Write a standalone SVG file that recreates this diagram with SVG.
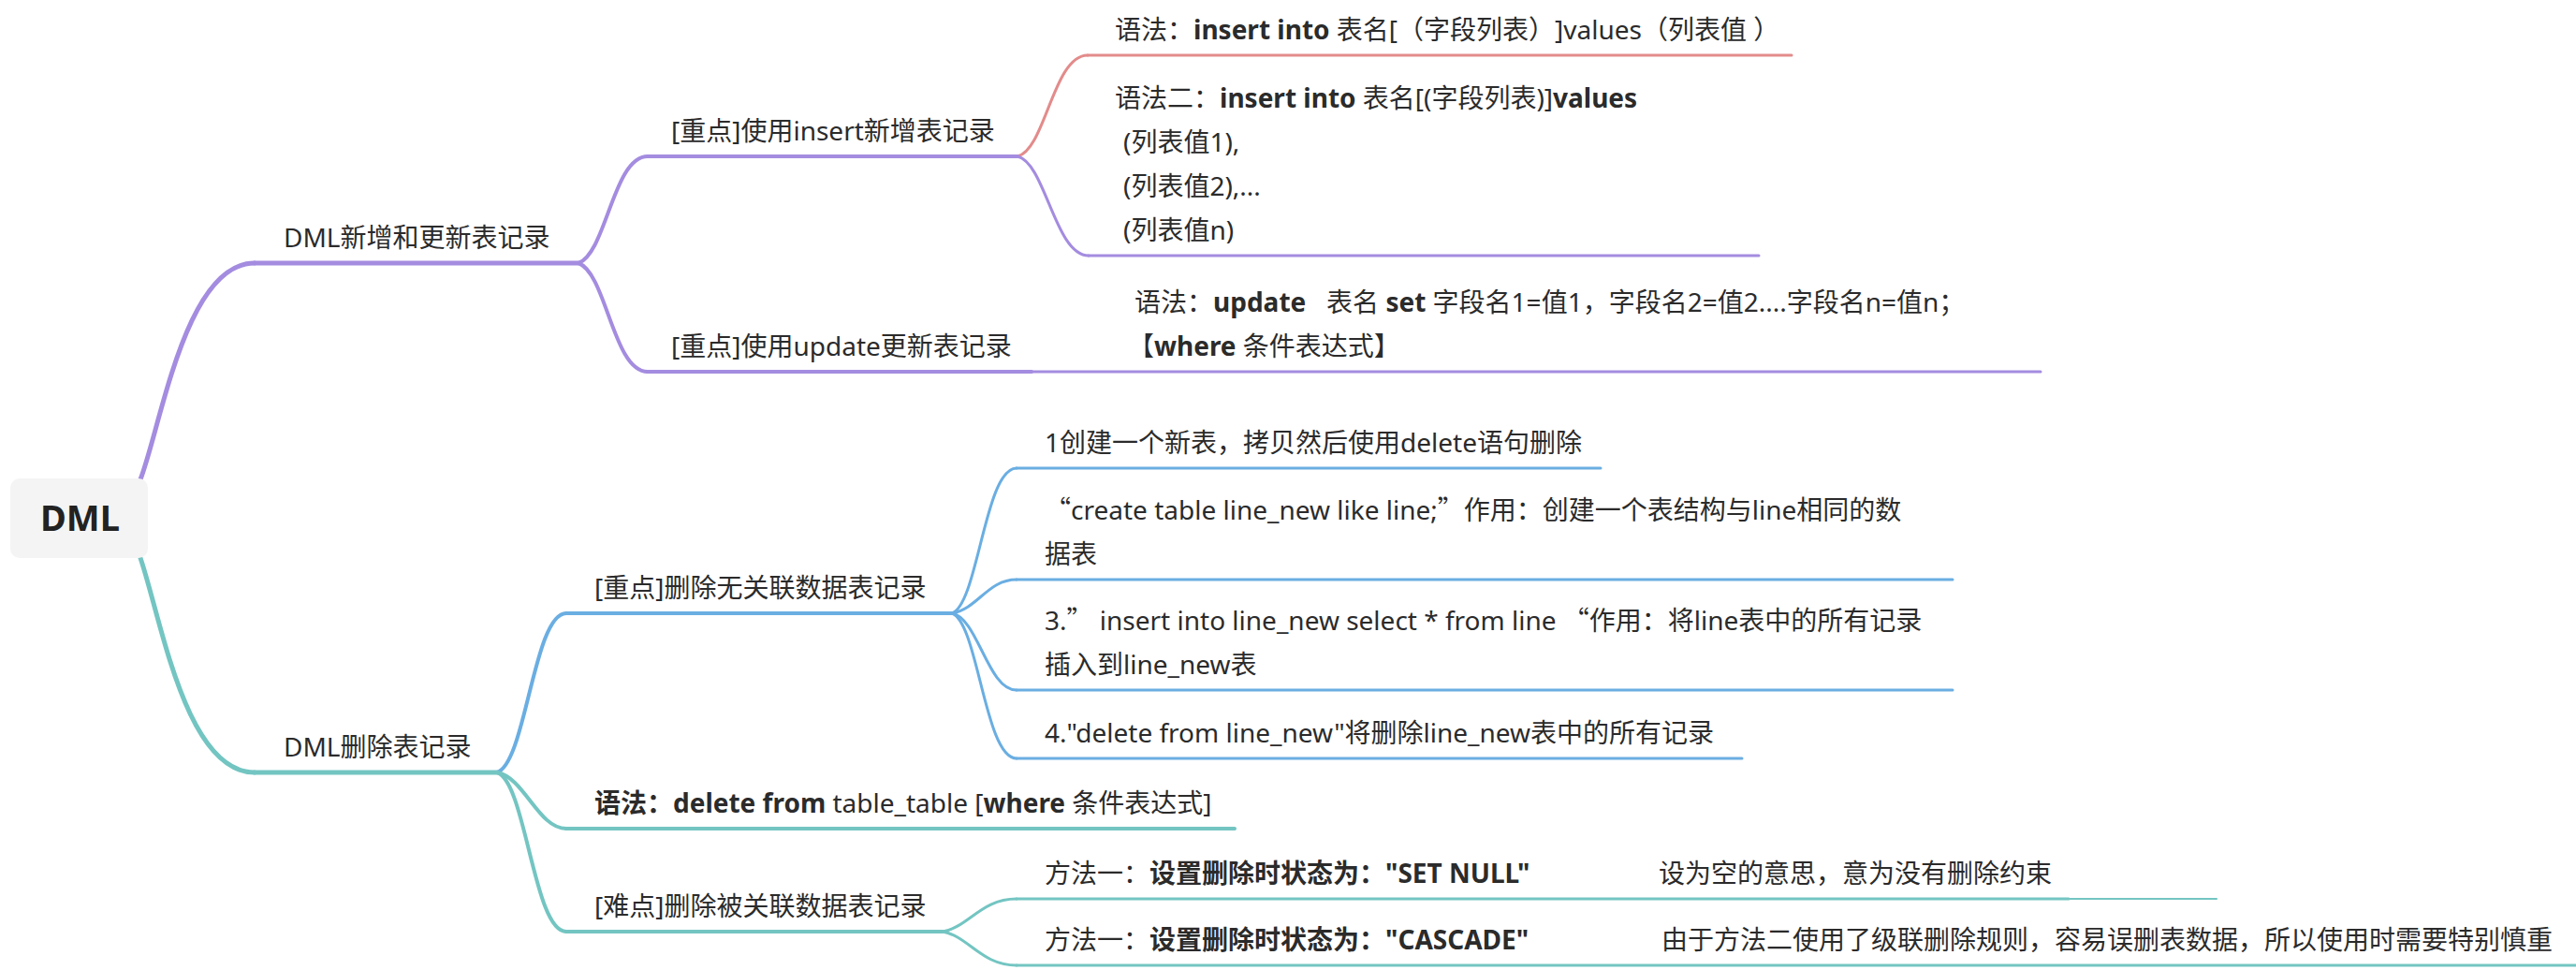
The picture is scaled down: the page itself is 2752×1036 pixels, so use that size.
<svg xmlns="http://www.w3.org/2000/svg" width="2752" height="1036" viewBox="0 0 2752 1036">
<style>
.t{font-family:"Noto Sans","Noto Sans CJK SC",sans-serif;font-size:28px;fill:#2b2b2b;text-spacing-trim:space-all}
.b{font-weight:bold}
.q{font-family:"Noto Sans CJK SC",sans-serif}
.rt{font-family:"Noto Sans","Noto Sans CJK SC",sans-serif;font-size:38px;font-weight:bold;fill:#222}
path{fill:none;stroke-linecap:round}
.pu{stroke:#a48ce0}.rd{stroke:#e38b8b}.bl{stroke:#6aaee2}.tl{stroke:#73c5c2}
.w5{stroke-width:5}.w4{stroke-width:4}.w3{stroke-width:3}.w2{stroke-width:2}
</style>
<rect width="2752" height="1036" fill="#ffffff"/>
<g id="connectors">
<path class="pu w5" d="M150 512 C 172 455, 198 281, 272 281"/>
<path class="tl w5" d="M150 596 C 172 660, 198 825, 272 825"/>
<path class="pu w4" d="M618 281 C 648 270, 655 167, 692 167"/>
<path class="pu w4" d="M618 281 C 648 292, 655 397, 692 397"/>
<path class="rd w3" d="M1087 167 C 1117 160, 1125 59, 1162 59"/>
<path class="pu w3" d="M1087 167 C 1117 174, 1127 273, 1163 273"/>
<path class="bl w4" d="M531 825 C 562 815, 570 655, 605 655"/>
<path class="tl w4" d="M531 825 C 560 830, 575 885, 605 885"/>
<path class="tl w4" d="M531 825 C 562 835, 570 995, 605 995"/>
<path class="bl w3" d="M1017 655 C 1045 645, 1052 500, 1086 500"/>
<path class="bl w3" d="M1017 655 C 1045 650, 1055 619, 1086 619"/>
<path class="bl w3" d="M1017 655 C 1045 660, 1055 737, 1086 737"/>
<path class="bl w3" d="M1017 655 C 1045 665, 1052 810, 1086 810"/>
<path class="tl w3" d="M1007 995 C 1035 990, 1048 960, 1086 960"/>
<path class="tl w3" d="M1007 995 C 1035 1000, 1048 1031, 1086 1031"/>
</g>
<g id="root">
<rect x="11" y="511" width="147" height="85" rx="10" fill="#f4f4f4"/>
<text class="rt" x="85.5" y="567" text-anchor="middle">DML</text>
</g>
<g id="n-insert-update">
<path class="pu w5" d="M272 281 H618"/>
<text class="t" x="303" y="264">DML新增和更新表记录</text>
</g>
<g id="n-delete">
<path class="tl w5" d="M272 825 H531"/>
<text class="t" x="303" y="808">DML删除表记录</text>
</g>
<g id="n-insert">
<path class="pu w4" d="M692 167 H1087"/>
<text class="t" x="717" y="150">[重点]使用insert新增表记录</text>
</g>
<g id="n-update">
<path class="pu w4" d="M692 397 H1102"/>
<text class="t" x="717" y="380">[重点]使用update更新表记录</text>
</g>
<g id="n-insert-syntax1">
<path class="rd w3" d="M1162 59 H1914"/>
<text class="t" x="1191" y="42">语法：<tspan class="b">insert into</tspan> 表名[（字段列表）]values（列表值 ）</text>
</g>
<g id="n-insert-syntax2">
<path class="pu w3" d="M1163 273 H1879"/>
<text class="t" x="1191" y="115">语法二：<tspan class="b">insert into</tspan> 表名[(字段列表)]<tspan class="b">values</tspan></text>
<text class="t" x="1200" y="162">(列表值1),</text>
<text class="t" x="1200" y="209">(列表值2),...</text>
<text class="t" x="1200" y="256">(列表值n)</text>
</g>
<g id="n-update-syntax">
<path class="pu w3" d="M1102 397 H2180"/>
<text class="t" x="1212" y="333" xml:space="preserve">语法：<tspan class="b">update</tspan>   表名 <tspan class="b">set</tspan> 字段名1=值1，字段名2=值2....字段名n=值n；</text>
<text class="t" x="1205" y="380">【<tspan class="b">where</tspan> 条件表达式】</text>
</g>
<g id="n-del-unrelated">
<path class="bl w4" d="M605 655 H1017"/>
<text class="t" x="635" y="638">[重点]删除无关联数据表记录</text>
</g>
<g id="n-del-syntax">
<path class="tl w4" d="M605 885 H1319"/>
<text class="t" x="635" y="868"><tspan class="b">语法：delete from</tspan> table_table [<tspan class="b">where</tspan> 条件表达式]</text>
</g>
<g id="n-del-related">
<path class="tl w4" d="M605 995 H1007"/>
<text class="t" x="635" y="978">[难点]删除被关联数据表记录</text>
</g>
<g id="n-step1">
<path class="bl w3" d="M1086 500 H1710"/>
<text class="t" x="1116" y="483">1创建一个新表，拷贝然后使用delete语句删除</text>
</g>
<g id="n-step2">
<path class="bl w3" d="M1086 619 H2086"/>
<text class="t" x="1116" y="555"><tspan class="q">“</tspan>create table line_new like line;<tspan class="q">”</tspan>作用：创建一个表结构与line相同的数</text>
<text class="t" x="1116" y="602">据表</text>
</g>
<g id="n-step3">
<path class="bl w3" d="M1086 737 H2086"/>
<text class="t" x="1116" y="673">3.<tspan class="q">”</tspan> insert into line_new select * from line <tspan class="q">“</tspan>作用：将line表中的所有记录</text>
<text class="t" x="1116" y="720">插入到line_new表</text>
</g>
<g id="n-step4">
<path class="bl w3" d="M1086 810 H1861"/>
<text class="t" x="1116" y="793">4."delete from line_new"将删除line_new表中的所有记录</text>
</g>
<g id="n-setnull">
<path class="tl w3" d="M1086 960 H2210"/>
<path class="tl w2" d="M2210 960 H2368"/>
<text class="t" x="1116" y="943">方法一：<tspan class="b">设置删除时状态为："SET NULL"</tspan></text>
<text class="t" x="1772" y="943">设为空的意思，意为没有删除约束</text>
</g>
<g id="n-cascade">
<path class="tl w3" d="M1086 1031 H2752"/>
<text class="t" x="1116" y="1014">方法一：<tspan class="b">设置删除时状态为："CASCADE"</tspan></text>
<text class="t" x="1775" y="1014">由于方法二使用了级联删除规则，容易误删表数据，所以使用时需要特别慎重</text>
</g>
</svg>
